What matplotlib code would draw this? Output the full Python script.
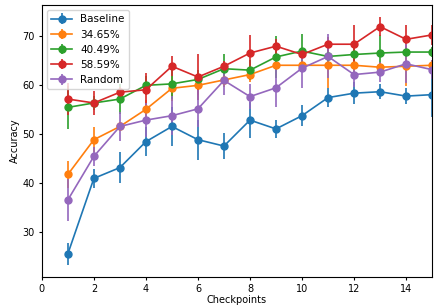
import numpy as np
import matplotlib
matplotlib.use("Agg")
import matplotlib.pyplot as plt

plt.rcParams['font.size'] = 7
plt.rcParams['xtick.major.size'] = 2.4
plt.rcParams['ytick.major.size'] = 2.4
plt.rcParams['xtick.major.pad'] = 2.5
plt.rcParams['ytick.major.pad'] = 2.5

checkpoints = np.arange(1, 16)

baseline = [25.6, 41.0, 43.2, 48.5, 51.6, 48.9, 47.6, 52.9, 51.1, 53.8, 57.5, 58.4, 58.7, 57.8, 58.1]
baseline_err = [2.2, 1.9, 3.1, 3.0, 4.0, 4.1, 2.6, 3.6, 1.9, 2.2, 2.0, 2.2, 1.5, 1.6, 4.6]

p3465 = [41.8, 48.9, 51.6, 55.1, 59.4, 60.0, 61.1, 62.2, 64.1, 64.1, 64.1, 64.1, 63.7, 63.9, 64.1]
p3465_err = [2.8, 2.5, 1.0, 2.0, 2.5, 2.0, 1.5, 1.5, 1.0, 1.0, 4.7, 1.5, 1.0, 4.0, 1.0]

p4049 = [55.5, 56.4, 57.2, 60.0, 60.3, 61.2, 63.4, 63.1, 65.8, 67.0, 65.9, 66.3, 66.6, 66.8, 66.8]
p4049_err = [4.4, 1.5, 3.0, 2.0, 3.0, 2.0, 3.0, 2.0, 4.2, 3.5, 1.5, 2.0, 3.6, 1.0, 1.0]

p5859 = [57.2, 56.4, 58.6, 59.1, 63.9, 61.7, 63.9, 66.6, 68.0, 66.3, 68.4, 68.4, 72.0, 69.4, 70.3]
p5859_err = [3.2, 2.5, 1.0, 3.5, 2.0, 4.7, 1.0, 3.6, 1.5, 1.0, 1.5, 4.0, 1.9, 3.0, 2.0]

random_sel = [36.6, 45.5, 51.6, 52.9, 53.8, 55.2, 61.0, 57.7, 59.5, 63.5, 65.9, 62.2, 62.7, 64.4, 63.2]
random_err = [4.3, 2.0, 3.0, 3.5, 4.0, 3.8, 3.0, 2.5, 4.0, 4.0, 4.5, 2.5, 2.0, 4.0, 2.0]

series = [
    ("Baseline", baseline, baseline_err),
    ("34.65%", p3465, p3465_err),
    ("40.49%", p4049, p4049_err),
    ("58.59%", p5859, p5859_err),
    ("Random", random_sel, random_err),
]

fig = plt.figure(figsize=(4.36, 3.08), dpi=100)
ax = fig.add_axes([0.096, 0.101, 0.895, 0.883])

for name, vals, err in series:
    ax.errorbar(checkpoints, vals, yerr=err, marker='o', markersize=5, linewidth=1.2, label=name)

ax.set_xlim(0, 15)
ax.set_xlabel('Checkpoints', labelpad=1)
ax.set_ylabel('Accuracy', labelpad=2)
ax.legend(loc='upper left', fontsize=7.5)

fig.savefig('out.png', dpi=100)
